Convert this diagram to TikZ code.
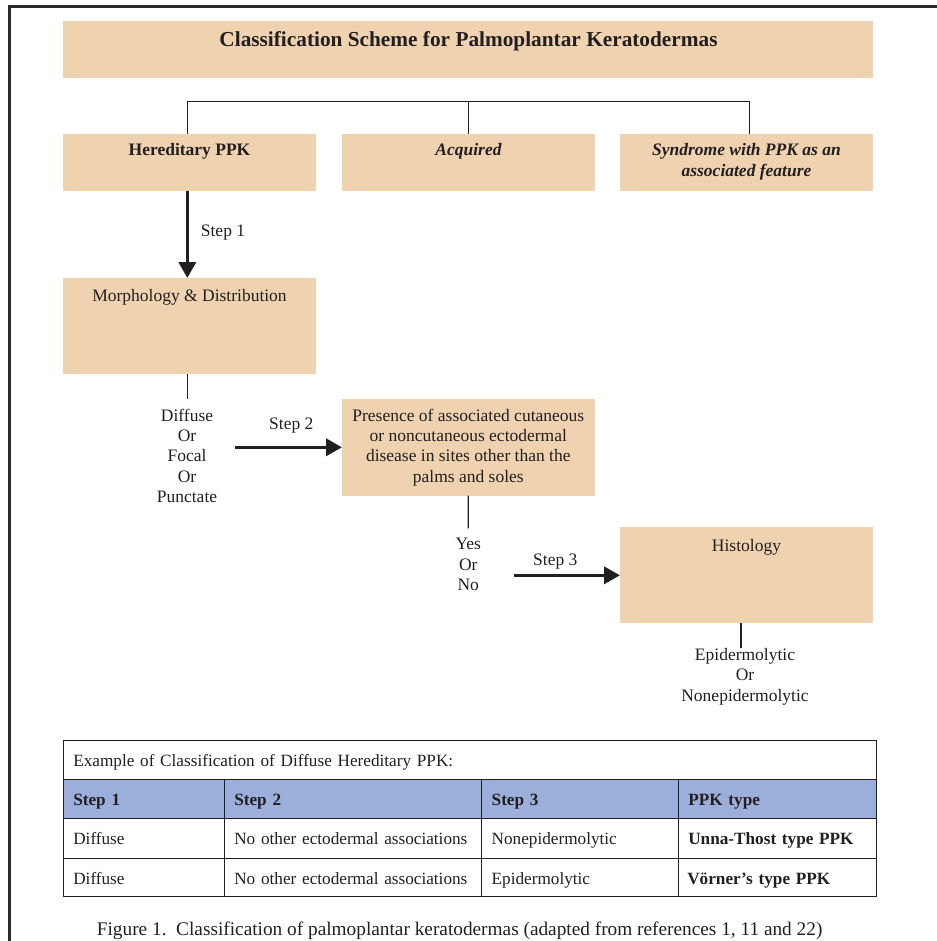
\documentclass[tikz,border=0pt]{standalone}
\usepackage{fontspec}
\setmainfont{Liberation Serif}
\usetikzlibrary{arrows.meta,calc}
\definecolor{peach}{HTML}{EFD2AF}
\definecolor{hdrblue}{HTML}{9CAFDA}
\definecolor{ink}{HTML}{231F20}
\definecolor{framecol}{HTML}{2A2A2A}
\begin{document}
\begin{tikzpicture}[x=1pt,y=-1pt,
  box/.style={fill=peach, inner sep=0pt, outer sep=0pt, anchor=north west},
  txt/.style={text=ink, font=\fontsize{17.5}{20.3}\selectfont, inner sep=0pt, align=center, anchor=base},
  conn/.style={draw=ink, line width=1.2pt},
  bigarrow/.style={draw=ink, line width=3.6pt, -{Triangle[length=16pt,width=17pt]}},
  cell/.style={draw=ink, line width=0.9pt, anchor=north west, minimum height=39pt,
    inner xsep=10pt, inner ysep=0pt, outer sep=0pt, align=left, text=ink,
    text height=13pt, text depth=0pt, font=\fontsize{17.2}{20}\selectfont},
  hcell/.style={cell, fill=hdrblue, font=\fontsize{17.2}{20}\selectfont\bfseries}
]
\useasboundingbox (0,0) rectangle (936,941);
\fill[white] (0,0) rectangle (936,941);
% outer frame
\draw[framecol, line width=3pt] (9.8,960) -- (9.8,6.8) -- (960,6.8);

% title
\node[box, minimum width=810pt, minimum height=57pt] (title) at (63,21) {};
\node[txt, font=\fontsize{21.3}{25}\selectfont\bfseries] (titletxt) at (468.5,47)
  {Classification Scheme for Palmoplantar Keratodermas};

% first row of boxes
\node[box, minimum width=253pt, minimum height=56.7pt] (her) at (63,134) {};
\node[box, minimum width=253pt, minimum height=56.7pt] (acq) at (342,134) {};
\node[box, minimum width=253pt, minimum height=56.7pt] (syn) at (620,134) {};
\node[txt, font=\fontsize{17.5}{20.3}\selectfont\bfseries] (hertxt) at (189.5,156) {Hereditary PPK};
\node[txt, font=\fontsize{17.5}{20.3}\selectfont\bfseries\itshape] (acqtxt) at (468.5,156) {Acquired};
\node[txt, font=\fontsize{17.5}{20.4}\selectfont\bfseries\itshape] (syntxt) at (746.5,176.4)
  {Syndrome with PPK as an\\associated feature};

% bus connector
\coordinate (c1) at (187.3,0);
\coordinate (c3) at (749.3,0);
\coordinate (bus) at (0,101.7);
\draw[conn] (her.north -| c1) -- (bus -| c1) -- (bus -| c3) -- (syn.north -| c3);
\draw[conn] (acq.north) -- (acq.north |- bus);

% step 1
\node[box, minimum width=253pt, minimum height=96.3pt] (morph) at (63,278) {};
\node[txt] (morphtxt) at (189.5,301) {Morphology \& Distribution};
\draw[bigarrow] (her.south -| c1) -- (morph.north -| c1);
\node[txt, anchor=base west] (s1) at (200.7,236.5) {Step 1};

% step 2
\coordinate (dtop) at (187.3,399);
\draw[conn] (morph.south -| c1) -- (dtop);
\node[txt] (dist) at (187,502.5) {Diffuse\\Or\\Focal\\Or\\Punctate};
\node[box, minimum width=252.5pt, minimum height=96.5pt] (pres) at (342,399) {};
\node[txt] (prestxt) at (468.3,482)
  {Presence of associated cutaneous\\or noncutaneous ectodermal\\disease in sites other than the\\palms and soles};
\coordinate (a2s) at (235,447.3);
\draw[bigarrow] (a2s) -- (a2s -| pres.west);
\node[txt] (s2) at (291.3,429.8) {Step 2};

% step 3
\coordinate (yntop) at (468.3,528.3);
\draw[conn] (pres.south) -- (yntop);
\node[txt] (yn) at (468.3,590.5) {Yes\\Or\\No};
\node[box, minimum width=253pt, minimum height=96.3pt] (hist) at (620,527) {};
\node[txt] (histtxt) at (746.5,551.5) {Histology};
\coordinate (a3s) at (514.3,575.3);
\draw[bigarrow] (a3s) -- (a3s -| hist.west);
\node[txt] (s3) at (555.3,565.5) {Step 3};
\coordinate (c4) at (741,0);
\coordinate (etop) at (741,648.3);
\draw[conn] (hist.south -| c4) -- (etop);
\node[txt] (epi) at (745,701.2) {Epidermolytic\\Or\\Nonepidermolytic};

% table
\node[cell, minimum height=38.6pt, text width=792.7pt] (ttitle) at (63.3,740.7)
  {Example of Classification of Diffuse Hereditary PPK:};
\node[hcell, text width=141pt] (h1) at (63.3,779.3) {Step 1};
\node[hcell, text width=237.4pt] (h2) at (224.3,779.3) {Step 2};
\node[hcell, text width=176.6pt] (h3) at (481.7,779.3) {Step 3};
\node[hcell, text width=177.7pt] (h4) at (678.3,779.3) {PPK type};
\node[cell, minimum height=40pt, text width=141pt] (r11) at (63.3,818.3) {Diffuse};
\node[cell, minimum height=40pt, text width=237.4pt] (r12) at (224.3,818.3) {No other ectodermal associations};
\node[cell, minimum height=40pt, text width=176.6pt] (r13) at (481.7,818.3) {Nonepidermolytic};
\node[cell, minimum height=40pt, text width=177.7pt, font=\fontsize{17.2}{20}\selectfont\bfseries] (r14) at (678.3,818.3) {Unna-Thost type PPK};
\node[cell, minimum height=38.4pt, text width=141pt] (r21) at (63.3,858.3) {Diffuse};
\node[cell, minimum height=38.4pt, text width=237.4pt] (r22) at (224.3,858.3) {No other ectodermal associations};
\node[cell, minimum height=38.4pt, text width=176.6pt] (r23) at (481.7,858.3) {Epidermolytic};
\node[cell, minimum height=38.4pt, text width=179.7pt, inner xsep=9pt, font=\fontsize{17.2}{20}\selectfont\bfseries] (r24) at (678.3,858.3) {Vörner’s type PPK};

% caption
\node[txt, font=\fontsize{19.3}{23}\selectfont, anchor=base west] (cap) at (96.7,935.5)
  {Figure 1.\hspace{0.5em}Classification of palmoplantar keratodermas (adapted from references 1, 11 and 22)};
\end{tikzpicture}
\end{document}
